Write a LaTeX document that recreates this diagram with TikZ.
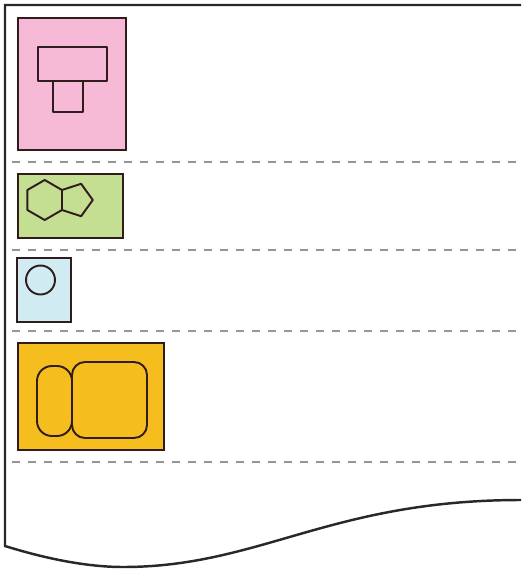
\documentclass[tikz,border=0pt]{standalone}
\usepackage{xcolor}
\usetikzlibrary{positioning}
\definecolor{pinkfill}{RGB}{247,186,214}
\definecolor{greenfill}{RGB}{196,222,146}
\definecolor{bluefill}{RGB}{208,236,242}
\definecolor{yellowfill}{RGB}{245,190,30}
\definecolor{edge}{RGB}{48,28,28}
\definecolor{wall}{RGB}{40,40,40}
\definecolor{sep}{RGB}{150,150,150}
\begin{document}
\begin{tikzpicture}[
  x=0.02cm,y=-0.02cm,
  box/.style={draw=edge,line width=1.2pt,inner sep=0pt},
  part/.style={draw=edge,line width=1.1pt,line join=round},
  divider/.style={draw=sep,line width=0.9pt,dash pattern=on 0.16cm off 0.16cm},
  frame/.style={draw=wall,line width=1.4pt}
]
\useasboundingbox (0,0) rectangle (521,571);
\node[box,fill=pinkfill,minimum width=2.16cm,minimum height=2.64cm] (lamp) at (72,84) {};
\node[box,fill=greenfill,minimum width=2.1cm,minimum height=1.28cm] (rings) at (70.5,206) {};
\node[box,fill=bluefill,minimum width=1.08cm,minimum height=1.28cm] (dot) at (44,290) {};
\node[box,fill=yellowfill,minimum width=2.92cm,minimum height=2.14cm] (sofa) at (91,396.5) {};
\draw[part] (38,47) rectangle (107,81);
\draw[part] (53,81) rectangle (83,112);
\draw[part] (44.7,180) -- (62,190) -- (62,210) -- (44.7,220) -- (27.4,210) -- (27.4,190) -- cycle;
\draw[part] (62,190) -- (81.1,183.8) -- (92.8,200) -- (81.1,216.2) -- (62,210);
\draw[part] (40.5,280) circle (0.29cm);
\draw[part,rounded corners=0.3cm] (37,366) rectangle (72,436);
\draw[part,rounded corners=0.26cm] (72,362) rectangle (147,438);
\foreach \y in {162,250,331,462}
  \draw[divider] (12,\y) -- (521,\y);
\draw[frame] (521,5) -- (5,5) -- (5,546)
  .. controls (50,560) and (90,567) .. (123,567)
  .. controls (260,567) and (330,500) .. (521,500);
\end{tikzpicture}
\end{document}
